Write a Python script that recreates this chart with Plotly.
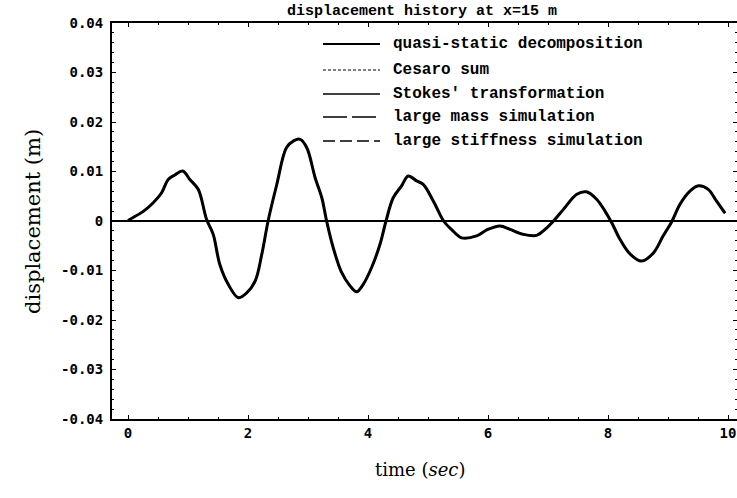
import plotly.graph_objects as go

# ---- data ----
time_s = [0.0, 0.03, 0.26, 0.42, 0.56, 0.67, 0.78, 0.91, 1.03, 1.17, 1.31, 1.42, 1.53, 1.67, 1.84,
          1.98, 2.12, 2.23, 2.34, 2.48, 2.64, 2.76, 2.87, 2.98, 3.12, 3.23, 3.31, 3.42, 3.56,
          3.70, 3.81, 3.92, 4.06, 4.20, 4.30, 4.42, 4.56, 4.67, 4.81, 4.92, 5.09, 5.26, 5.39,
          5.56, 5.81, 5.98, 6.20, 6.37, 6.59, 6.81, 6.95, 7.09, 7.26, 7.48, 7.64, 7.81, 7.95,
          8.06, 8.20, 8.37, 8.56, 8.76, 8.92, 9.06, 9.20, 9.37, 9.51, 9.67, 9.81, 9.95]
displacement = [0.0, 0.0003, 0.0020, 0.0037, 0.0057, 0.0084, 0.0093, 0.0101, 0.0084, 0.0064,
                0.0003, -0.0027, -0.0088, -0.0128, -0.0155, -0.0145, -0.0121, -0.0067, 0.0003,
                0.0074, 0.0148, 0.0162, 0.0165, 0.0148, 0.0087, 0.0047, 0.0, -0.0054, -0.0104,
                -0.0131, -0.0143, -0.0128, -0.0094, -0.0047, 0.0, 0.0047, 0.0071, 0.0091, 0.0081,
                0.0074, 0.0040, 0.0, -0.0017, -0.0034, -0.0030, -0.0018, -0.0010, -0.0017,
                -0.0027, -0.0029, -0.0017, 0.0, 0.0024, 0.0054, 0.0059, 0.0044, 0.0020,
                -0.0003, -0.0037, -0.0067, -0.0081, -0.0064, -0.0030, -0.0002, 0.0034, 0.0061,
                0.0071, 0.0064, 0.0040, 0.0016]
series_names = ["quasi-static decomposition", "Cesaro sum", "Stokes' transformation",
                "large mass simulation", "large stiffness simulation"]
x_tick_vals = [0, 2, 4, 6, 8, 10]
y_tick_vals = [0.04, 0.03, 0.02, 0.01, 0, -0.01, -0.02, -0.03, -0.04]
y_tick_text = ["0.04", "0.03", "0.02", "0.01", "0", "-0.01", "-0.02", "-0.03", "-0.04"]

# ---- styles ----
dashes = ["solid", "3px,2px", "solid", "24px,5px", "12px,5px"]
widths = [3.0, 1.2, 1.5, 1.5, 1.5]

fig = go.Figure()
for name, dash, w in zip(series_names, dashes, widths):
    fig.add_trace(go.Scatter(x=time_s, y=displacement, mode="lines", name=name,
                             line=dict(color="black", width=w, dash=dash),
                             line_shape="spline", showlegend=False))

# custom legend (layout, paper coordinates)
W, H, L, R, T, B = 737, 498, 112, 0, 23, 79
pw = W - L - R
ph = H - T - B
def px(xp):
    return (xp - L) / pw
def py(yp):
    return (H - B - yp) / ph

rows = [44, 70, 94, 117, 141]
shapes = []
annotations = []
for name, dash, w, r in zip(series_names, dashes, widths, rows):
    shapes.append(dict(type="line", xref="paper", yref="paper",
                       x0=px(323), x1=px(380), y0=py(r), y1=py(r),
                       line=dict(color="black", width=min(w, 2.2), dash=dash)))
    annotations.append(dict(text=name, xref="paper", yref="paper", x=px(391), y=py(r),
                            xanchor="left", yanchor="middle", showarrow=False,
                            font=dict(family="Liberation Mono", size=16, color="black",
                                      weight="bold")))

annotations.append(dict(text="displacement history at x=15 m", xref="paper", yref="paper",
                        x=px(422), y=py(11), xanchor="center", yanchor="middle",
                        showarrow=False,
                        font=dict(family="Liberation Mono", size=15, color="black",
                                  weight="bold")))
annotations.append(dict(text="displacement (m)", xref="paper", yref="paper",
                        x=px(33), y=py(221), xanchor="center", yanchor="middle",
                        textangle=-90, showarrow=False,
                        font=dict(family="DejaVu Serif", size=21, color="black")))
annotations.append(dict(text="time (<i>sec</i>)", xref="paper", yref="paper",
                        x=px(420), y=py(469), xanchor="center", yanchor="middle",
                        showarrow=False,
                        font=dict(family="DejaVu Serif", size=18, color="black")))

tickfont = dict(family="DejaVu Sans Mono", size=14, color="black", weight="bold")
fig.update_layout(
    width=W, height=H,
    margin=dict(l=L, r=R, t=T, b=B),
    paper_bgcolor="white", plot_bgcolor="white",
    shapes=shapes, annotations=annotations,
    xaxis=dict(range=[-0.267, 10.15], tickvals=x_tick_vals, ticks="inside", ticklen=4,
               tickcolor="black", showline=True, linecolor="black", linewidth=2,
               mirror="ticks", showgrid=False, zeroline=False, tickfont=tickfont,
               ticklabelstandoff=0, automargin=False,
               minor=dict(ticks="inside", ticklen=2, dtick=0.5, tickcolor="black")),
    yaxis=dict(range=[-0.04, 0.04], tickvals=y_tick_vals, ticktext=y_tick_text,
               ticks="inside", ticklen=4, tickcolor="black", showline=True,
               linecolor="black", linewidth=2, mirror="ticks", showgrid=False,
               zeroline=True, zerolinecolor="black", zerolinewidth=1.6,
               tickfont=tickfont, ticklabelstandoff=4, automargin=False,
               minor=dict(ticks="inside", ticklen=2, dtick=0.002, tickcolor="black")),
)

fig.write_html("out.html", config={"displayModeBar": False},
               post_script="document.body.style.margin='0';")
